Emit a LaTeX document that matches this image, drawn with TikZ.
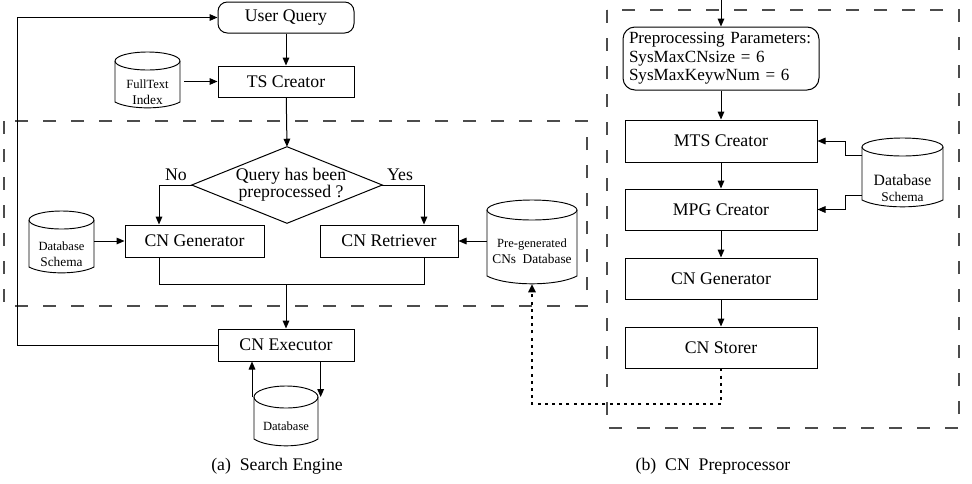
\documentclass[tikz,border=0pt]{standalone}
\usepackage{fontspec}
\setmainfont{Liberation Serif}
\usetikzlibrary{arrows.meta,fit}

\newcommand\mainsz{\fontsize{13.3}{15}\selectfont}
\newcommand\smallsz{\fontsize{9.4}{10}\selectfont}
\newcommand\midsz{\fontsize{11.8}{12.8}\selectfont}

\tikzset{
  conn/.style={line width=0.75pt, draw=black},
  arr/.style={conn, -{Triangle[length=6pt,width=5pt]}},
  dotarr/.style={line width=1.6pt, dash pattern=on 2.2pt off 3.2pt, -{Triangle[length=6pt,width=5.5pt]}},
  procbox/.style={draw, line width=0.75pt, inner sep=0pt, font=\mainsz},
  roundbox/.style={procbox, rounded corners=7pt},
  cyl/.style={line width=0.7pt},
  group/.style={draw=black!70, line width=0.9pt, dash pattern=on 9.75pt off 11.25pt},
  caption/.style={font=\mainsz},
}

% database drum: name, left, top, right, bottom, top radius, bottom depth, label y, label
\newcommand\dbcyl[9]{%
  \coordinate (#1-nw) at (#2,#3);
  \coordinate (#1-se) at (#4,#5);
  \node[fit=(#1-nw)(#1-se), inner sep=0pt] (#1) {};
  \coordinate (#1-l) at (#2,#3+#6);
  \coordinate (#1-r) at (#4,#3+#6);
  \draw[cyl] ({(#2+#4)/2},#3+#6) ellipse [x radius={(#4-#2)/2}, y radius=#6];
  \draw[cyl] (#2,#3+#6) -- (#2,#5-#7)
    .. controls ({#2+0.22*(#4-#2)},#5+0.3*#7) and ({#4-0.22*(#4-#2)},#5+0.3*#7) .. (#4,#5-#7)
    -- (#4,#3+#6);
  \node[align=center, inner sep=0pt] (#1-txt) at ({(#2+#4)/2},#8) {#9};
}

\begin{document}
\begin{tikzpicture}[x=0.75pt,y=-0.75pt]
\useasboundingbox (0,0) rectangle (972,483);

% ---------- (a) search engine ----------
\draw[group] (4,121) rectangle (587,306);

\node[roundbox, minimum width=102pt, minimum height=23.25pt] (UQ) at (286,17.5) {User Query};
\node[procbox, minimum width=102pt, minimum height=23.25pt] (TS) at (286,81.5) {TS Creator};

\dbcyl{FT}{115}{52}{180}{108}{9}{6}{92}{\smallsz FullText\\Index}

% decision
\node[inner sep=0pt, minimum width=142.5pt, minimum height=57pt] (Q) at (287,185) {};
\draw[conn] (Q.north) -- (Q.east) -- (Q.south) -- (Q.west) -- cycle;
\node[align=center, inner sep=0pt, font=\fontsize{13.3}{12.8}\selectfont] (Qt) at (291,185) {Query has been\\preprocessed ?};
\node[font=\mainsz, inner sep=0pt] (no) at (176,175) {No};
\node[font=\mainsz, inner sep=0pt] (yes) at (400,175) {Yes};

\node[procbox, minimum width=104.25pt, minimum height=24pt] (CG) at (194.5,241) {CN Generator};
\node[procbox, minimum width=103.5pt, minimum height=24pt] (CR) at (389,241) {CN Retriever};
\node[procbox, minimum width=102pt, minimum height=24pt] (CE) at (286,345) {CN Executor};

\dbcyl{DS}{29}{211}{94}{273}{9}{6}{254}{\fontsize{9.4}{10.5}\selectfont Database\\Schema}
\dbcyl{PG}{487}{200}{577}{284}{10}{8}{251}{\fontsize{9.4}{10.5}\selectfont Pre-generated\\CNs\enspace Database}
\dbcyl{DB}{254}{386}{318}{446}{11}{7}{426}{\smallsz Database}

\coordinate (nx) at (159,0);
\coordinate (yx) at (424,0);
\coordinate (jn) at (0,284);
\coordinate (fb) at (17,0);

\draw[arr] (UQ) -- (TS);
\draw[arr] (FT.east |- TS.west) ++(4,0) coordinate (fts) -- (TS.west);
\draw[arr] (TS) -- (Q.north);
\draw[arr] (Q.west) -- (Q.west -| nx) -- (nx |- CG.north);
\draw[arr] (Q.east) -- (Q.east -| yx) -- (yx |- CR.north);
\draw[arr] (DS.east |- CG.west) -- (CG.west);
\draw[arr] (PG.west |- CR.east) -- (CR.east);
\draw[conn] (nx |- CG.south) -- (nx |- jn) -- (yx |- jn) -- (yx |- CR.south);
\draw[arr] (CE.north |- jn) -- (CE.north);
\draw[arr] (CE.west) -- (CE.west -| fb) -- (fb |- UQ.west) -- (UQ.west);
\draw[arr] ([xshift=-1.5pt]DB-l) -- ([xshift=-1.5pt]DB-l |- CE.south);
\draw[arr] ([xshift=2pt]DB-r |- CE.south) -- ([xshift=2pt]DB-r);

\node[caption] (capa) at (277,466) {(a)\enspace Search Engine};

% ---------- (b) CN preprocessor ----------
\draw[group] (607,10) rectangle (959,428);

\coordinate (in) at (721,0);
\node[roundbox, rounded corners=9pt, minimum width=147pt, minimum height=47.25pt,
      text width=138pt, inner xsep=4.5pt, align=left,
      font=\fontsize{12.8}{13.9}\selectfont] (PP) at (721,58.5)
  {\hyphenpenalty=10000 Preprocessing Parameters:\\SysMaxCNsize = 6\\SysMaxKeywNum = 6};
\node[procbox, minimum width=144pt, minimum height=31.5pt] (MTS) at (721,141) {MTS Creator};
\node[procbox, minimum width=144pt, minimum height=30.75pt] (MPG) at (721,209.5) {MPG Creator};
\node[procbox, minimum width=144pt, minimum height=30.75pt] (CNG) at (721,278.5) {CN Generator};
\node[procbox, minimum width=144pt, minimum height=30.75pt] (CNS) at (721,347.5) {CN Storer};

\dbcyl{DS2}{862}{138}{943}{207}{9}{7}{188}{\fontsize{11.8}{12.8}\selectfont Database\\Schema}

\coordinate (el) at (845,0);
\coordinate (dt) at (0,404);

\draw[arr] (in) -- (PP.north);
\draw[arr] (PP) -- (MTS);
\draw[arr] (MTS) -- (MPG);
\draw[arr] (MPG) -- (CNG);
\draw[arr] (CNG) -- (CNS);
\draw[arr] ([yshift=13pt]DS2.west) -- ([yshift=13pt]DS2.west -| el) -- (el |- MTS.east) -- (MTS.east);
\draw[arr] ([yshift=-17pt]DS2.west) -- ([yshift=-17pt]DS2.west -| el) -- (el |- MPG.east) -- (MPG.east);

\draw[dotarr] (CNS.south) -- (CNS.south |- dt) -- (PG.south |- dt) -- (PG.south);

\node[caption] (capb) at (713,466) {(b)\enspace CN\enspace Preprocessor};
\end{tikzpicture}
\end{document}
